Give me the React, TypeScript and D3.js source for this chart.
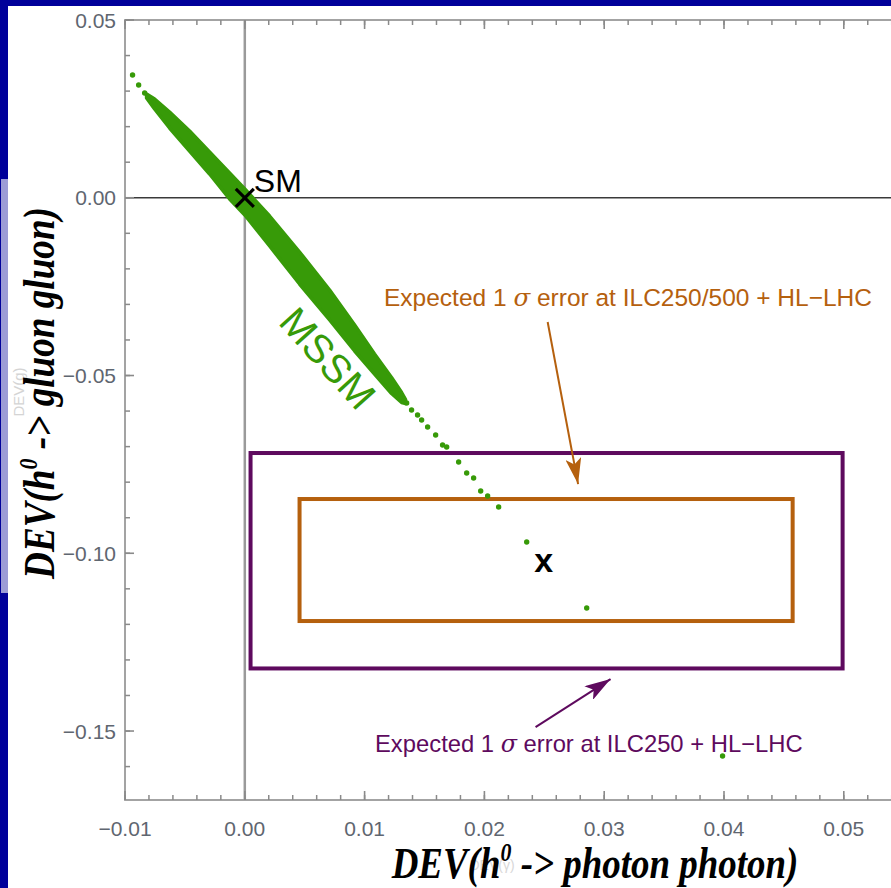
import React from "react";
import * as d3 from "d3";

// ---- data ----
const bandX = [-0.0082, -0.00753, -0.00628, -0.00461, -0.00294, -0.00127, 0.0, 0.00207, 0.00457, 0.00708, 0.00917, 0.01083, 0.01225, 0.01309, 0.01342];
const bandUpper = [0.02918, 0.02778, 0.02412, 0.01878, 0.01287, 0.00696, 0.00246, -0.00513, -0.01526, -0.02595, -0.0358, -0.04395, -0.05056, -0.05478, -0.05675];
const bandLower = [0.02806, 0.02496, 0.01962, 0.01315, 0.00668, -0.00035, -0.00485, -0.01357, -0.02426, -0.03439, -0.04311, -0.04958, -0.05506, -0.05759, -0.05787];

const dotX = [-0.00937, -0.00886, -0.00836, 0.01351, 0.01392, 0.01442, 0.01476, 0.01526, 0.01593, 0.01651, 0.01685, 0.01785, 0.01852, 0.0191, 0.01969, 0.02027, 0.02119, 0.02353, 0.02854, 0.03988];
const dotY = [0.03453, 0.03171, 0.02946, -0.05774, -0.05971, -0.06111, -0.06252, -0.06449, -0.06674, -0.06955, -0.07011, -0.07433, -0.07743, -0.07883, -0.08249, -0.08389, -0.08699, -0.09683, -0.1154, -0.15703];

const xTickValues = [-0.01, 0.0, 0.01, 0.02, 0.03, 0.04, 0.05];
const xTickLabels = ["\u22120.01", "0.00", "0.01", "0.02", "0.03", "0.04", "0.05"];
const yTickValues = [0.05, 0.0, -0.05, -0.1, -0.15];
const yTickLabels = ["0.05", "0.00", "\u22120.05", "\u22120.10", "\u22120.15"];

// error boxes: [xmin, xmax, ymin, ymax]
const boxILC500 = [0.00457, 0.04573, -0.11906, -0.08474];
const boxILC250 = [0.00048, 0.0499, -0.1324, -0.0718];
const smPoint = [0.0, 0.0];
const targetPoint = [0.02495, -0.1025];
const arrowILC500 = [0.02528, -0.03495, 0.02782, -0.08054];
const arrowILC250 = [0.02427, -0.14888, 0.03053, -0.13538];

const ORANGE = "#b5600e";
const PURPLE = "#5e0a5e";
const GREEN = "#379a08";

export default function App() {
  const W = 891, H = 888;
  const x = d3.scaleLinear().domain([-0.01, 0.055]).range([125, 125 + 0.065 * 11980]);
  const y = d3.scaleLinear().domain([-0.1694, 0.05]).range([800, 20]);
  const [xl, xr] = x.range();
  const yb = 800, yt = 20;

  const xMinor = d3.range(-0.01, 0.0551, 0.002);
  const yMinor = d3.range(-0.16, 0.0501, 0.01);

  const band = bandX.map((v, i) => ({ x: v, hi: bandUpper[i], lo: bandLower[i] }));
  const area = d3.area<any>()
    .x((d) => x(d.x))
    .y0((d) => y(d.lo))
    .y1((d) => y(d.hi))
    .curve(d3.curveLinear);

  const tickColor = "#8a8a8a";
  const box = (b: number[], color: string) => (
    <rect x={x(b[0])} y={y(b[3])} width={x(b[1]) - x(b[0])} height={y(b[2]) - y(b[3])}
      fill="none" stroke={color} strokeWidth={4} />
  );

  return (
    <svg width={W} height={H} style={{ position: "absolute", left: 0, top: 0 }}
      fontFamily="'Liberation Sans', Arial, sans-serif">
      <defs>
        <marker id="ahO" viewBox="0 0 26 16" refX="26" refY="8" markerWidth="26" markerHeight="16"
          markerUnits="userSpaceOnUse" orient="auto">
          <path d="M0,0 L26,8 L0,16 L6,8 Z" fill={ORANGE} />
        </marker>
        <marker id="ahP" viewBox="0 0 26 16" refX="26" refY="8" markerWidth="26" markerHeight="16"
          markerUnits="userSpaceOnUse" orient="auto">
          <path d="M0,0 L26,8 L0,16 L6,8 Z" fill={PURPLE} />
        </marker>
      </defs>
      <rect x={0} y={0} width={W} height={H} fill="#00009a" />
      <rect x={1} y={179} width={7} height={414} fill="#9c9cd6" />
      <rect x={8} y={6} width={W - 8} height={H - 6} fill="#ffffff" />

      {/* zero lines */}
      <line x1={x(0)} x2={x(0)} y1={yt} y2={yb} stroke="#9a9a9a" strokeWidth={2.5} />
      <line x1={xl} x2={xr} y1={y(0)} y2={y(0)} stroke="#3a3a3a" strokeWidth={1.4} />

      {/* frame */}
      <rect x={xl} y={yt} width={xr - xl} height={yb - yt} fill="none" stroke="#9a9a9a" strokeWidth={1.8} />

      {/* x ticks */}
      {xMinor.map((t, i) => (
        <g key={"xm" + i}>
          <line x1={x(t)} x2={x(t)} y1={yb} y2={yb - 5} stroke={tickColor} strokeWidth={1.5} />
          <line x1={x(t)} x2={x(t)} y1={yt} y2={yt + 5} stroke={tickColor} strokeWidth={1.5} />
        </g>
      ))}
      {xTickValues.map((t, i) => (
        <g key={"xM" + i}>
          <line x1={x(t)} x2={x(t)} y1={yb} y2={yb - 9} stroke={tickColor} strokeWidth={1.6} />
          <line x1={x(t)} x2={x(t)} y1={yt} y2={yt + 9} stroke={tickColor} strokeWidth={1.6} />
          <text x={x(t)} y={836} textAnchor="middle" fontSize={21} fill="#5f6670">{xTickLabels[i]}</text>
        </g>
      ))}
      {/* y ticks */}
      {yMinor.map((t, i) => (
        <line key={"ym" + i} x1={xl} x2={xl + 5} y1={y(t)} y2={y(t)} stroke={tickColor} strokeWidth={1.5} />
      ))}
      {yTickValues.map((t, i) => (
        <g key={"yM" + i}>
          <line x1={xl} x2={xl + 9} y1={y(t)} y2={y(t)} stroke={tickColor} strokeWidth={1.6} />
          <text x={116} y={y(t)} dy="0.36em" textAnchor="end" fontSize={21} fill="#5f6670">{yTickLabels[i]}</text>
        </g>
      ))}

      {/* error boxes */}
      {box(boxILC250, PURPLE)}
      {box(boxILC500, ORANGE)}

      {/* arrows */}
      <line x1={x(arrowILC500[0])} y1={y(arrowILC500[1])} x2={x(arrowILC500[2])} y2={y(arrowILC500[3])}
        stroke={ORANGE} strokeWidth={2} markerEnd="url(#ahO)" />
      <line x1={x(arrowILC250[0])} y1={y(arrowILC250[1])} x2={x(arrowILC250[2])} y2={y(arrowILC250[3])}
        stroke={PURPLE} strokeWidth={2} markerEnd="url(#ahP)" />

      {/* annotation texts */}
      <text x={384} y={306} fontSize={24.5} fill={ORANGE}>
        Expected 1 <tspan fontStyle="italic" fontFamily="'DejaVu Serif', serif">σ</tspan> error at ILC250/500 + HL−LHC
      </text>
      <text x={375} y={752} fontSize={23.8} fill={PURPLE}>
        Expected 1 <tspan fontStyle="italic" fontFamily="'DejaVu Serif', serif">σ</tspan> error at ILC250 + HL−LHC
      </text>

      {/* MSSM band */}
      <path d={area(band) || ""} fill={GREEN} stroke={GREEN} strokeWidth={3.5} strokeLinejoin="round" />
      {dotX.map((v, i) => (
        <circle key={"d" + i} cx={x(v)} cy={y(dotY[i])} r={2.7} fill={GREEN} />
      ))}

      {/* SM marker */}
      <g stroke="#000" strokeWidth={3.2}>
        <line x1={x(smPoint[0]) - 9} y1={y(smPoint[1]) - 9} x2={x(smPoint[0]) + 9} y2={y(smPoint[1]) + 9} />
        <line x1={x(smPoint[0]) - 9} y1={y(smPoint[1]) + 9} x2={x(smPoint[0]) + 9} y2={y(smPoint[1]) - 9} />
      </g>
      <text x={x(smPoint[0]) + 9} y={y(smPoint[1]) - 6} fontSize={32} fill="#000">SM</text>
      <text x={x(targetPoint[0])} y={y(targetPoint[1])} dy="0.28em" textAnchor="middle" fontSize={34}
        fontWeight="bold" fill="#000">x</text>

      <text transform="translate(328,358) rotate(48)" textAnchor="middle" dy="0.36em" fontSize={40} fill={GREEN}>MSSM</text>

      {/* ghost labels */}
      <text transform="translate(24,392) rotate(-90)" textAnchor="middle" fontSize={15} fill="#d4d4d4">DEV(g)</text>
      <text x={492} y={870} textAnchor="middle" fontSize={14} fill="#d8d8d8">DEV(γ)</text>

      {/* axis labels */}
      <g transform="translate(595,878) scale(0.84,1)">
        <text textAnchor="middle" fontFamily="'Liberation Serif', 'Times New Roman', serif" fontStyle="italic"
          fontWeight="bold" fontSize={44} fill="#000">
          DEV(h<tspan fontSize={26} dy={-17}>0</tspan><tspan dy={17}> -&gt; photon photon)</tspan>
        </text>
      </g>
      <g transform="translate(54,393) rotate(-90) scale(0.845,1)">
        <text textAnchor="middle" fontFamily="'Liberation Serif', 'Times New Roman', serif" fontStyle="italic"
          fontWeight="bold" fontSize={44} fill="#000">
          DEV(h<tspan fontSize={26} dy={-17}>0</tspan><tspan dy={17}> -&gt; gluon gluon)</tspan>
        </text>
      </g>
    </svg>
  );
}
